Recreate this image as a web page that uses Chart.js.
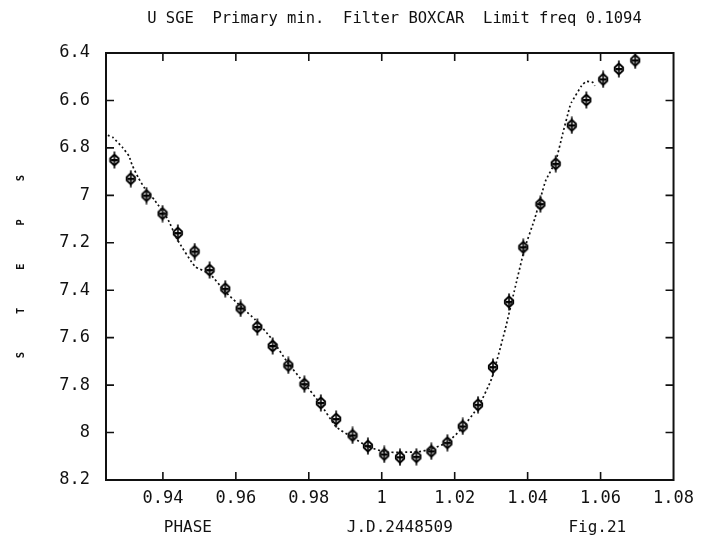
<!DOCTYPE html>
<html>
<head>
<meta charset="utf-8">
<script src="https://cdn.jsdelivr.net/npm/chart.js@4.4.1/dist/chart.umd.min.js"></script>
<style>
  html, body { margin: 0; padding: 0; background: #ffffff; }
  #c { display: block; }
</style>
</head>
<body>
<canvas id="c" width="702" height="548"></canvas>
<script>
// ---- Data ----
const TITLE = ' U SGE  Primary min.  Filter BOXCAR  Limit freq 0.1094';
const X_TITLE = '      PHASE              J.D.2448509            Fig.21';
const Y_TITLE = 'S      T      E      P      S';

const X_TICKS = [0.94, 0.96, 0.98, 1.00, 1.02, 1.04, 1.06, 1.08];
const X_TICK_LABELS = ['0.94', '0.96', '0.98', '1', '1.02', '1.04', '1.06', '1.08'];
const Y_TICKS = [6.4, 6.6, 6.8, 7.0, 7.2, 7.4, 7.6, 7.8, 8.0, 8.2];
const Y_TICK_LABELS = ['6.4', '6.6', '6.8', '7', '7.2', '7.4', '7.6', '7.8', '8', '8.2'];

// observed magnitudes (markers)
const PHASE_OBS = [0.9267, 0.9312, 0.9355, 0.9399, 0.9441, 0.9487, 0.9528, 0.9571, 0.9613, 0.9659,
                   0.9701, 0.9744, 0.9788, 0.9833, 0.9875, 0.9920, 0.9962, 1.0007, 1.0050, 1.0095,
                   1.0136, 1.0180, 1.0222, 1.0264, 1.0305, 1.0349, 1.0388, 1.0435, 1.0477, 1.0521,
                   1.0561, 1.0607, 1.0650, 1.0695];
const MAG_OBS = [6.851, 6.930, 7.001, 7.077, 7.159, 7.237, 7.315, 7.394, 7.477, 7.555,
                 7.635, 7.717, 7.796, 7.875, 7.943, 8.012, 8.057, 8.092, 8.104, 8.102,
                 8.079, 8.043, 7.974, 7.883, 7.724, 7.449, 7.219, 7.037, 6.867, 6.705,
                 6.598, 6.511, 6.467, 6.431];

// filtered (BOXCAR) curve (dotted line)
const PHASE_FIT = [0.9249, 0.9262, 0.9289, 0.9307, 0.9315, 0.9333, 0.9350, 0.9377, 0.9413, 0.9439,
                   0.9488, 0.9528, 0.9572, 0.9617, 0.9653, 0.9697, 0.9741, 0.9786, 0.9830, 0.9875,
                   0.9919, 0.9964, 1.0009, 1.0054, 1.0100, 1.0136, 1.0181, 1.0218, 1.0264, 1.0301,
                   1.0339, 1.0363, 1.0392, 1.0420, 1.0449, 1.0477, 1.0496, 1.0515, 1.0520, 1.0548,
                   1.0561, 1.0580, 1.0584];
const MAG_FIT = [6.747, 6.755, 6.798, 6.834, 6.870, 6.927, 6.970, 7.020, 7.099, 7.185,
                 7.300, 7.330, 7.408, 7.473, 7.524, 7.603, 7.703, 7.789, 7.875, 7.976,
                 8.020, 8.060, 8.082, 8.083, 8.081, 8.070, 8.040, 7.985, 7.893, 7.774,
                 7.562, 7.406, 7.223, 7.096, 6.940, 6.856, 6.741, 6.630, 6.609, 6.538,
                 6.520, 6.525, 6.539];

const X_MIN = 0.9244, X_MAX = 1.08;
const Y_MIN = 6.4, Y_MAX = 8.2;

// ---- Styling ----
const INK = '#111111';
const MONO = "'DejaVu Sans Mono', 'Liberation Mono', monospace";

// marker symbol: outlined diamond pierced by a vertical stroke, filled centre bar
function makeMarker() {
  const c = document.createElement('canvas');
  c.width = 12; c.height = 18;
  const g = c.getContext('2d');
  g.strokeStyle = '#000'; g.fillStyle = '#000';
  g.lineWidth = 1.8;
  g.lineJoin = 'round';
  g.beginPath();
  g.moveTo(6, 3.5); g.lineTo(10.2, 7.5); g.lineTo(10.2, 10.5);
  g.lineTo(6, 14.5); g.lineTo(1.8, 10.5); g.lineTo(1.8, 7.5);
  g.closePath();
  g.stroke();
  g.lineWidth = 1.6;
  g.beginPath();
  g.moveTo(6, 0.5); g.lineTo(6, 17.5);
  g.stroke();
  g.fillRect(2.5, 8, 7, 2.4);
  return c;
}
const MARKER = makeMarker();

const frameAndTicks = {
  id: 'frameAndTicks',
  afterDraw(chart) {
    const {ctx, chartArea: a, scales} = chart;
    const L = 8;
    ctx.save();
    ctx.strokeStyle = INK;
    ctx.lineWidth = 2;
    ctx.strokeRect(a.left, a.top, a.right - a.left, a.bottom - a.top);
    ctx.lineWidth = 1.6;
    ctx.beginPath();
    scales.x.ticks.forEach(t => {
      const px = scales.x.getPixelForValue(t.value);
      if (px <= a.left + 1 || px >= a.right - 1) return;
      ctx.moveTo(px, a.bottom); ctx.lineTo(px, a.bottom - L);
      ctx.moveTo(px, a.top); ctx.lineTo(px, a.top + L);
    });
    scales.y.ticks.forEach(t => {
      const py = scales.y.getPixelForValue(t.value);
      if (py <= a.top + 1 || py >= a.bottom - 1) return;
      ctx.moveTo(a.left, py); ctx.lineTo(a.left + L, py);
      ctx.moveTo(a.right, py); ctx.lineTo(a.right - L, py);
    });
    ctx.stroke();
    ctx.restore();
  }
};

new Chart(document.getElementById('c'), {
  type: 'scatter',
  data: {
    datasets: [
      {
        label: 'filtered',
        data: PHASE_FIT.map((x, i) => ({x, y: MAG_FIT[i]})),
        showLine: true,
        borderColor: INK,
        borderWidth: 1.7,
        borderDash: [2, 2.6],
        pointRadius: 0,
        tension: 0.15,
        fill: false
      },
      {
        label: 'observed',
        data: PHASE_OBS.map((x, i) => ({x, y: MAG_OBS[i]})),
        showLine: false,
        pointStyle: MARKER,
        pointRadius: 6
      }
    ]
  },
  options: {
    responsive: false,
    animation: false,
    events: [],
    layout: { padding: { left: 0, right: 24, top: 0, bottom: 0 } },
    plugins: {
      legend: { display: false },
      tooltip: { enabled: false },
      title: {
        display: true,
        fullSize: false,
        text: TITLE,
        color: INK,
        font: { family: MONO, size: 15.5, weight: 'normal' },
        padding: { top: 10, bottom: 24.4 }
      }
    },
    scales: {
      x: {
        type: 'linear',
        position: 'bottom',
        min: X_MIN, max: X_MAX,
        afterBuildTicks: s => { s.ticks = X_TICKS.map(v => ({value: v})); },
        afterFit: s => { s.height = 68; },
        grid: { display: false, drawTicks: false },
        border: { display: false },
        ticks: {
          color: INK,
          font: { family: MONO, size: 17 },
          padding: 8,
          maxRotation: 0,
          autoSkip: false,
          callback: (v, i) => X_TICK_LABELS[i]
        },
        title: {
          display: true,
          align: 'start',
          text: X_TITLE,
          color: INK,
          font: { family: MONO, size: 16 },
          padding: { top: 0, bottom: 10.4 }
        }
      },
      y: {
        type: 'linear',
        position: 'left',
        reverse: true,
        min: Y_MIN, max: Y_MAX,
        afterBuildTicks: s => { s.ticks = Y_TICKS.map(v => ({value: v})); },
        afterFit: s => { s.width = 106; },
        grid: { display: false, drawTicks: false },
        border: { display: false },
        ticks: {
          color: INK,
          font: { family: MONO, size: 17 },
          padding: 16,
          autoSkip: false,
          callback: (v, i) => Y_TICK_LABELS[i]
        },
        title: {
          display: true,
          text: Y_TITLE,
          color: INK,
          font: { family: MONO, size: 10.5, weight: 'bold' },
          padding: { top: 15.4, bottom: 0 }
        }
      }
    }
  },
  plugins: [frameAndTicks]
});
</script>
</body>
</html>
